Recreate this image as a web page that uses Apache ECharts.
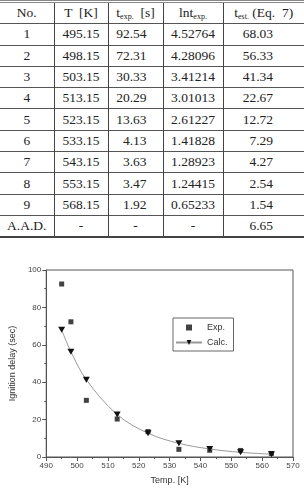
<!DOCTYPE html>
<html>
<head>
<meta charset="utf-8">
<script src="https://cdn.jsdelivr.net/npm/echarts@6/dist/echarts.min.js"></script>
<style>
  html, body { margin: 0; padding: 0; background: #fff; }
  .wrap { position: relative; width: 304px; height: 490px; overflow: hidden; }
  table {
    position: absolute; left: 0; top: 0; width: 304px;
    border-collapse: collapse; table-layout: fixed;
    font-family: "Liberation Serif", "DejaVu Serif", serif; font-size: 13.5px; color: #222;
    border-top: 3px double #888; border-bottom: 2px solid #444;
  }
  td, th { height: 20.3px; padding: 0; font-weight: normal; text-align: center;
    border-top: 1px solid #555; border-left: 1px solid #444; line-height: 20px; }
  tr td:first-child, tr th:first-child { border-left: none; }
  th { border-top: none; }
  sub { font-size: 8px; vertical-align: -2px; line-height: 0; }
  td.r3 { text-align: right; padding-right: 16px; }
  td.r5 { text-align: right; padding-right: 31px; }
  #chart { position: absolute; left: 0; top: 240px; width: 304px; height: 250px; }
</style>
</head>
<body>
<div class="wrap">
  <table id="tbl"></table>
  <div id="chart"></div>
</div>
<script>
// table values
const rowNames = ['1', '2', '3', '4', '5', '6', '7', '8', '9', 'A.A.D.'];
const tempK = ['495.15', '498.15', '503.15', '513.15', '523.15', '533.15', '543.15', '553.15', '568.15', '-'];
const tExpTable = ['92.54', '72.31', '30.33', '20.29', '13.63', '4.13', '3.63', '3.47', '1.92', '-'];
const lnTExp = ['4.52764', '4.28096', '3.41214', '3.01013', '2.61227', '1.41828', '1.28923', '1.24415', '0.65233', '-'];
const tEstTable = ['68.03', '56.33', '41.34', '22.67', '12.72', '7.29', '4.27', '2.54', '1.54', '6.65'];

// chart values (as plotted)
const plotTemps = [495, 498, 503, 513, 523, 533, 543, 553, 563];
const expDelay = [92.5, 72.3, 30.3, 20.3, 13.6, 4.1, 3.6, 3.5, 1.9];
const calcDelay = [68.0, 56.3, 41.3, 22.7, 12.7, 7.3, 4.3, 2.5, 1.5];

const tbl = document.getElementById('tbl');
let html = '<colgroup><col style="width:54px"><col style="width:54px"><col style="width:55px"><col style="width:60px"><col style="width:81px"></colgroup>';
html += '<tr><th>No.</th><th>T&nbsp; [K]</th><th>t<sub>exp.</sub>&nbsp; [s]</th><th>lnt<sub>exp.</sub></th><th>t<sub>est.</sub>&nbsp;(Eq.&nbsp; 7)</th></tr>';
rowNames.forEach((n, i) => {
  const dash = tExpTable[i] === '-';
  html += '<tr><td>' + n + '</td><td>' + tempK[i] + '</td>' +
    '<td class="' + (dash ? '' : 'r3') + '">' + tExpTable[i] + '</td>' +
    '<td>' + lnTExp[i] + '</td>' +
    '<td class="r5">' + tEstTable[i] + '</td></tr>';
});
tbl.innerHTML = html;

const chart = echarts.init(document.getElementById('chart'));
const axisColor = '#555';
const sans = "'Liberation Sans', Arial, sans-serif";
const labelStyle = { color: '#444', fontSize: 8, fontFamily: sans };

chart.setOption({
  animation: false,
  grid: { left: 36, right: 11, top: 30, bottom: 31, show: true, borderColor: axisColor, borderWidth: 1 },
  legend: {
    orient: 'vertical', left: 173, top: 78,
    borderColor: '#666', borderWidth: 1, padding: [5, 6, 4, 2],
    itemWidth: 26, itemHeight: 6, itemGap: 6,
    symbolKeepAspect: true,
    textStyle: { fontSize: 9, color: '#333', fontFamily: sans },
    data: [
      { name: 'Exp.', icon: 'path://M0,0 L10,0 L10,10 L0,10 Z' },
      { name: 'Calc.' }
    ]
  },
  xAxis: {
    type: 'value', min: 490, max: 570, interval: 10,
    name: 'Temp. [K]', nameLocation: 'middle', nameGap: 19,
    nameTextStyle: { color: '#333', fontSize: 9, fontFamily: sans },
    axisLine: { lineStyle: { color: axisColor } },
    axisTick: { inside: false, length: 4, lineStyle: { color: axisColor } },
    minorTick: { show: true, splitNumber: 2, length: 2, lineStyle: { color: axisColor } },
    splitLine: { show: false },
    axisLabel: Object.assign({ margin: 5 }, labelStyle)
  },
  yAxis: {
    type: 'value', min: 0, max: 100, interval: 20,
    name: 'Ignition delay (sec)', nameLocation: 'middle', nameGap: 27, nameRotate: 90,
    nameTextStyle: { color: '#333', fontSize: 9, fontFamily: sans },
    axisLine: { show: true, lineStyle: { color: axisColor } },
    axisTick: { show: true, inside: false, length: 4, lineStyle: { color: axisColor } },
    minorTick: { show: true, splitNumber: 2, length: 2, lineStyle: { color: axisColor } },
    splitLine: { show: false },
    axisLabel: Object.assign({ margin: 5 }, labelStyle)
  },
  series: [
    {
      name: 'Exp.', type: 'scatter', symbol: 'rect', symbolSize: 5,
      itemStyle: { color: '#111' },
      data: plotTemps.map((t, i) => [t, expDelay[i]])
    },
    {
      name: 'Calc.', type: 'line', smooth: 0.35,
      symbol: 'path://M0,0 L10,0 L5,9 Z', symbolSize: [7, 6], showSymbol: true,
      itemStyle: { color: '#111' },
      lineStyle: { color: '#999', width: 1 },
      data: plotTemps.map((t, i) => [t, calcDelay[i]])
    }
  ]
});
</script>
</body>
</html>
